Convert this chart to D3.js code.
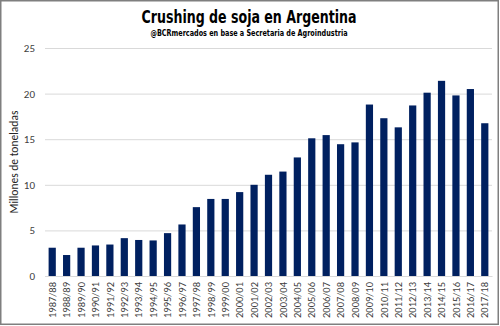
<!DOCTYPE html>
<html><head><meta charset="utf-8">
<script src="https://cdn.jsdelivr.net/npm/d3@7"></script>
<style>body{margin:0;background:#fff}svg{display:block}</style>
</head><body>
<script>
const categories = ["1987/88","1988/89","1989/90","1990/91","1991/92","1992/93","1993/94","1994/95","1995/96","1996/97","1997/98","1998/99","1999/00","2000/01","2001/02","2002/03","2003/04","2004/05","2005/06","2006/07","2007/08","2008/09","2009/10","2010/11","2011/12","2012/13","2013/14","2014/15","2015/16","2016/17","2017/18"];
const crushing = [3.1,2.3,3.1,3.35,3.45,4.15,3.95,3.9,4.7,5.65,7.55,8.45,8.45,9.2,10.0,11.1,11.45,13.0,15.1,15.45,14.45,14.65,18.8,17.3,16.3,18.7,20.1,21.4,19.8,20.5,16.75];
const yTicks = [0,5,10,15,20,25];
const title = "Crushing de soja en Argentina";
const subtitle = "@BCRmercados en base a Secretaria de Agroindustria";
const yLabel = "Millones de toneladas";

const W = 500, H = 326;
const svg = d3.select("body").append("svg").attr("width", W).attr("height", H);
svg.append("rect").attr("x",0.75).attr("y",0.75).attr("width",W-2.5).attr("height",H-2.5)
  .attr("fill","#fff").attr("stroke","#7f7f7f").attr("stroke-width",1.5);

const m = {left:45, right:8, top:48, bottom:50};
const x = d3.scaleBand().domain(categories).range([m.left, W - m.right]).paddingInner(0.5).paddingOuter(0.25);
const y = d3.scaleLinear().domain([0,25]).range([H - m.bottom, m.top]);

const font = "'DejaVu Sans Condensed','Liberation Sans Narrow',Arial,sans-serif";
const lfont = "Carlito,Calibri,'Liberation Sans',Arial,sans-serif";

// gridlines
const ga = svg.append("g").attr("transform",`translate(${m.left},0)`)
  .call(d3.axisLeft(y).tickValues(yTicks).tickSize(-(W - m.right - m.left)).tickPadding(10));
ga.select(".domain").remove();
ga.selectAll(".tick line").attr("stroke","#d9d9d9").attr("stroke-width",1);
ga.selectAll(".tick text").attr("font-family",lfont).attr("font-size",11).attr("fill","#404040");

// bars
svg.append("g").selectAll("rect").data(crushing).join("rect")
  .attr("x",(d,i)=>x(categories[i])).attr("width",x.bandwidth())
  .attr("y",d=>y(d)).attr("height",d=>y(0)-y(d)).attr("fill","#002060");

// x axis
const xa = svg.append("g").attr("transform",`translate(0,${y(0)})`)
  .call(d3.axisBottom(x).tickSize(0).tickPadding(0));
xa.select(".domain").attr("stroke","#d9d9d9");
xa.selectAll(".tick text").attr("transform","rotate(-90)").attr("text-anchor","end")
  .attr("x",-6).attr("y",0).attr("dy","0.35em")
  .attr("font-family",lfont).attr("font-size",10.5).attr("fill","#404040");

// y label
svg.append("text").attr("transform",`translate(18,${(y(0)+y(25))/2}) rotate(-90)`)
  .attr("text-anchor","middle").attr("font-family",lfont)
  .attr("font-size",11.5).attr("fill","#262626").text(yLabel);

// title
svg.append("text").attr("x",249).attr("y",23).attr("text-anchor","middle")
  .attr("font-family",font).attr("font-weight","bold").attr("font-size",18)
  .attr("textLength",215).attr("lengthAdjust","spacingAndGlyphs").attr("fill","#000").text(title);
svg.append("text").attr("x",249).attr("y",36).attr("text-anchor","middle")
  .attr("font-family",font).attr("font-weight","bold").attr("font-size",9.5)
  .attr("textLength",197).attr("lengthAdjust","spacingAndGlyphs").attr("fill","#000").text(subtitle);
</script>
</body></html>
